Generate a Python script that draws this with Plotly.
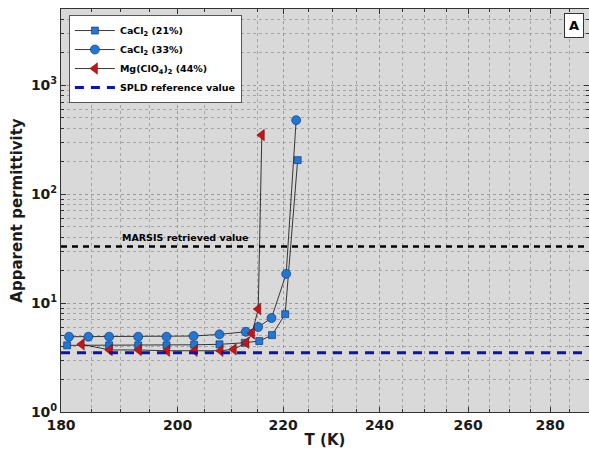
import numpy as np
import plotly.graph_objects as go

# ---- data ----
T_cacl21 = [181.0, 188.0, 193.0, 198.0, 203.0, 207.7, 212.5, 215.3, 217.8, 220.4, 222.9]
E_cacl21 = [4.09, 4.09, 4.09, 4.09, 4.14, 4.18, 4.32, 4.48, 5.08, 7.9, 205]

T_cacl33 = [181.3, 184.5, 188.0, 193.0, 198.0, 202.9, 207.7, 212.7, 215.1, 217.7, 220.6, 222.6]
E_cacl33 = [4.91, 4.91, 4.91, 4.91, 4.91, 4.98, 5.16, 5.45, 6.03, 7.29, 18.5, 477]

T_mg = [183.4, 188.1, 193.1, 198.1, 203.1, 207.9, 210.4, 212.8, 213.9, 215.1, 215.8]
E_mg = [4.18, 3.71, 3.71, 3.65, 3.65, 3.65, 3.76, 4.32, 5.27, 8.81, 348]

MARSIS_VALUE = 33
SPLD_VALUE = 3.5

X_RANGE = [180, 290]
Y_RANGE = [1, 5000]
x_major = [180, 200, 220, 240, 260, 280]
x_minor = list(range(185, 290, 5))
y_major = [1, 10, 100, 1000]
y_major_text = ["10<sup>0</sup>", "10<sup>1</sup>", "10<sup>2</sup>", "10<sup>3</sup>"]
y_minor = [m * 10 ** k for k in range(0, 4) for m in range(2, 10)]

FONT = "DejaVu Sans"
BLUE = "#1f78d6"
RED = "#c81414"

fig = go.Figure()

fig.add_trace(go.Scatter(
    x=T_cacl21, y=E_cacl21, mode="lines+markers", name="CaCl<sub>2</sub> (21%)",
    line=dict(color="#222222", width=0.9),
    marker=dict(symbol="square", size=7, color=BLUE, line=dict(color="#0a2a6a", width=0.6)),
))
fig.add_trace(go.Scatter(
    x=T_cacl33, y=E_cacl33, mode="lines+markers", name="CaCl<sub>2</sub> (33%)",
    line=dict(color="#222222", width=0.9),
    marker=dict(symbol="circle", size=9, color=BLUE, line=dict(color="#0a2a6a", width=0.6)),
))
fig.add_trace(go.Scatter(
    x=T_mg, y=E_mg, mode="lines+markers", name="Mg(ClO<sub>4</sub>)<sub>2</sub> (44%)",
    line=dict(color="#222222", width=0.9),
    marker=dict(symbol="triangle-left", size=10, color=RED, line=dict(color="#6a0a0a", width=0.5)),
))
# reference lines as traces across the x range
fig.add_trace(go.Scatter(
    x=X_RANGE, y=[MARSIS_VALUE, MARSIS_VALUE], mode="lines", showlegend=False,
    line=dict(color="black", width=2.6, dash="6px,5px"), hoverinfo="skip",
))
fig.add_trace(go.Scatter(
    x=X_RANGE, y=[SPLD_VALUE, SPLD_VALUE], mode="lines", name="SPLD reference value",
    line=dict(color="#0a14b4", width=3, dash="9px,7px"), hoverinfo="skip",
))

fig.add_annotation(
    text="MARSIS retrieved value", xref="paper", yref="paper",
    x=0.235, y=0.432, xanchor="center", yanchor="middle", showarrow=False,
    font=dict(family=FONT, size=9.5, color="black", weight="bold"),
)
fig.add_annotation(
    text="A", xref="paper", yref="paper", x=0.972, y=0.958,
    xanchor="center", yanchor="middle", showarrow=False,
    font=dict(family=FONT, size=13, color="black", weight="bold"),
    bgcolor="white", bordercolor="#333333", borderwidth=1, borderpad=4,
)

grid = dict(showgrid=True, gridcolor="#9a9a9a", griddash="dot", gridwidth=1)

fig.update_layout(
    width=589, height=454,
    margin=dict(l=61, r=0, t=9, b=42),
    paper_bgcolor="white", plot_bgcolor="#d9d9d9",
    font=dict(family=FONT, size=13, color="#1a1a1a"),
    legend=dict(
        x=0.015, y=0.985, xanchor="left", yanchor="top",
        bgcolor="white", bordercolor="#555555", borderwidth=1,
        font=dict(family=FONT, size=9.5, color="black", weight="bold"),
        tracegroupgap=0, itemwidth=40,
    ),
    xaxis=dict(
        type="log", range=[np.log10(X_RANGE[0]), np.log10(X_RANGE[1])],
        tickmode="array", tickvals=x_major, ticktext=[str(v) for v in x_major],
        ticks="inside", ticklen=5, tickcolor="#333333",
        showline=True, linecolor="#333333", linewidth=1, mirror="allticks",
        tickfont=dict(family=FONT, size=14, weight="bold"),
        title=dict(text="T (K)", font=dict(family=FONT, size=15, weight="bold"), standoff=2),
        minor=dict(tickmode="array", tickvals=x_minor, ticks="inside", ticklen=3,
                   showgrid=True, gridcolor="#a5a5a5", griddash="dot", gridwidth=1),
        zeroline=False, **grid,
    ),
    yaxis=dict(
        type="log", range=[np.log10(Y_RANGE[0]), np.log10(Y_RANGE[1])],
        tickmode="array", tickvals=y_major, ticktext=y_major_text,
        ticks="inside", ticklen=5, tickcolor="#333333",
        showline=True, linecolor="#333333", linewidth=1, mirror="allticks",
        tickfont=dict(family=FONT, size=14, weight="bold"),
        title=dict(text="Apparent permittivity", font=dict(family=FONT, size=15, weight="bold"), standoff=4),
        minor=dict(tickmode="array", tickvals=y_minor, ticks="inside", ticklen=3,
                   showgrid=True, gridcolor="#a5a5a5", griddash="dot", gridwidth=1),
        zeroline=False, **grid,
    ),
)

fig.write_html("out.html")
